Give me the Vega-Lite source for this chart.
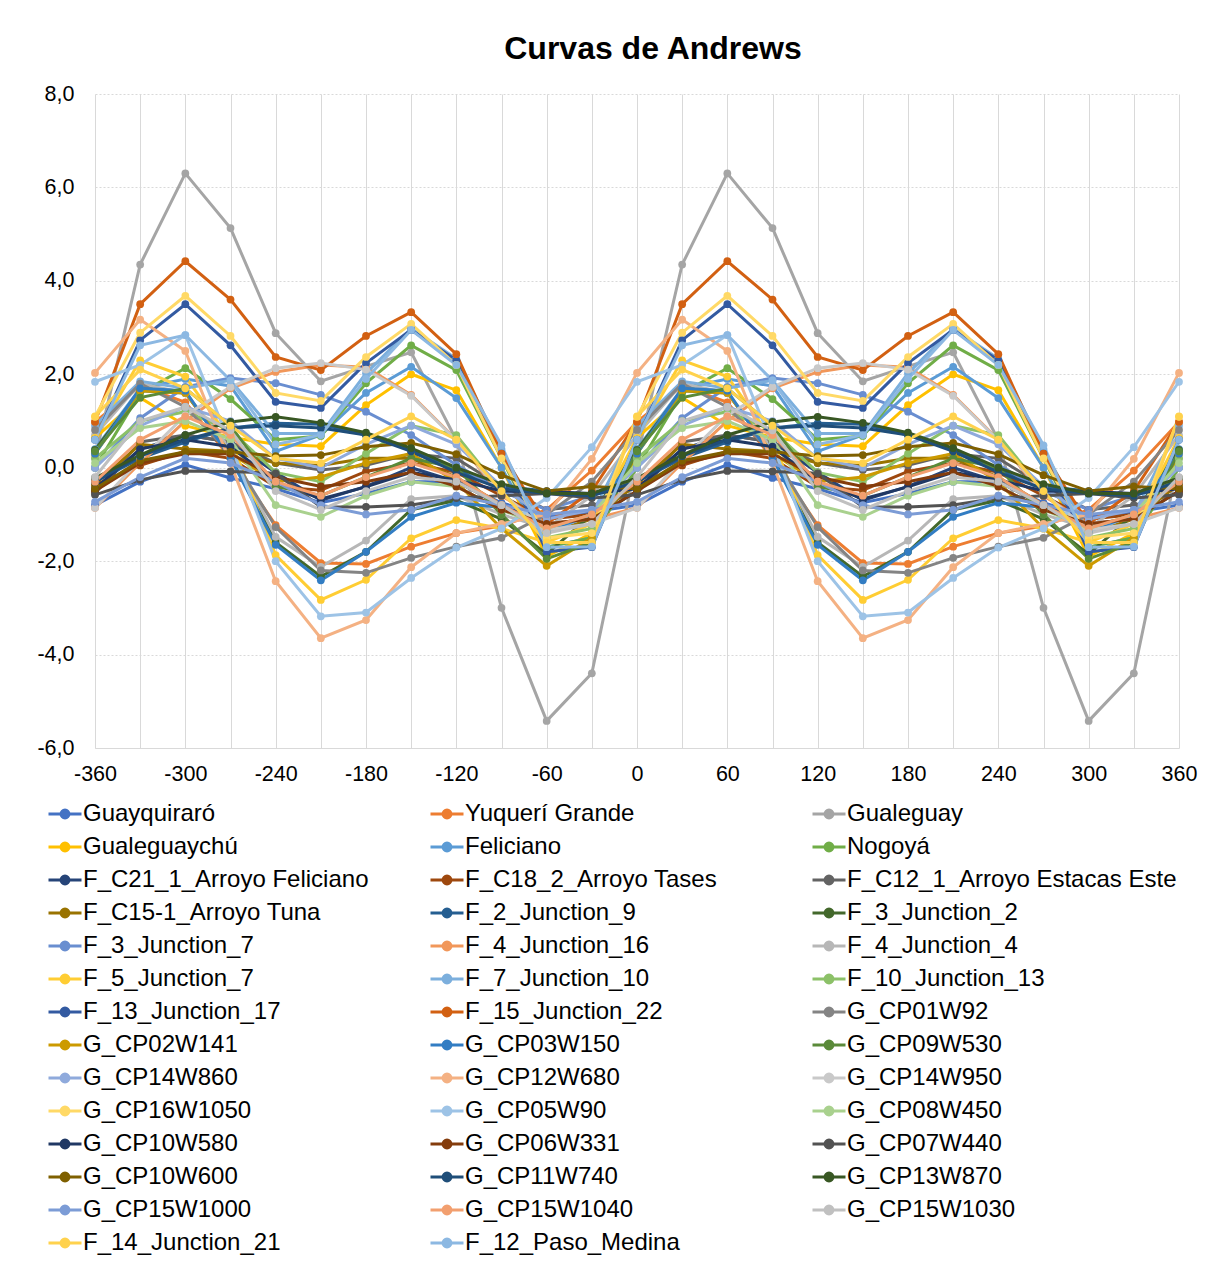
{
"$schema": "https://vega.github.io/schema/vega-lite/v6.json",
"width": 1084, "height": 654,
"autosize": {"type": "none"},
"padding": {"left": 95, "top": 94, "right": 37, "bottom": 517},
"background": "white",
"title": {"text": "Curvas de Andrews", "font": "Liberation Sans", "fontSize": 32, "fontWeight": "bold", "color": "#000000", "anchor": "middle", "offset": 17, "dx": 16},
"config": {"view": {"stroke": null}, "font": "Liberation Sans"},
"data": {"values": [
{"s":1,"x":-360,"y":-0.8},{"s":1,"x":-330,"y":-0.3},{"s":1,"x":-300,"y":0.06},{"s":1,"x":-270,"y":-0.22},{"s":1,"x":-240,"y":-0.45},{"s":1,"x":-210,"y":-0.75},{"s":1,"x":-180,"y":-0.55},{"s":1,"x":-150,"y":-0.3},{"s":1,"x":-120,"y":-0.3},{"s":1,"x":-90,"y":-0.75},{"s":1,"x":-60,"y":-1.05},{"s":1,"x":-30,"y":-0.95},{"s":1,"x":0,"y":-0.8},{"s":1,"x":30,"y":-0.3},{"s":1,"x":60,"y":0.06},{"s":1,"x":90,"y":-0.22},{"s":1,"x":120,"y":-0.45},{"s":1,"x":150,"y":-0.75},{"s":1,"x":180,"y":-0.55},{"s":1,"x":210,"y":-0.3},{"s":1,"x":240,"y":-0.3},{"s":1,"x":270,"y":-0.75},{"s":1,"x":300,"y":-1.05},{"s":1,"x":330,"y":-0.95},{"s":1,"x":360,"y":-0.8},
{"s":2,"x":-360,"y":0.98},{"s":2,"x":-330,"y":1.75},{"s":2,"x":-300,"y":1.4},{"s":2,"x":-270,"y":0.2},{"s":2,"x":-240,"y":-1.23},{"s":2,"x":-210,"y":-2.04},{"s":2,"x":-180,"y":-2.06},{"s":2,"x":-150,"y":-1.69},{"s":2,"x":-120,"y":-1.4},{"s":2,"x":-90,"y":-1.25},{"s":2,"x":-60,"y":-0.9},{"s":2,"x":-30,"y":-0.06},{"s":2,"x":0,"y":0.98},{"s":2,"x":30,"y":1.75},{"s":2,"x":60,"y":1.4},{"s":2,"x":90,"y":0.2},{"s":2,"x":120,"y":-1.23},{"s":2,"x":150,"y":-2.04},{"s":2,"x":180,"y":-2.06},{"s":2,"x":210,"y":-1.69},{"s":2,"x":240,"y":-1.4},{"s":2,"x":270,"y":-1.25},{"s":2,"x":300,"y":-0.9},{"s":2,"x":330,"y":-0.06},{"s":2,"x":360,"y":0.98},
{"s":3,"x":-360,"y":0.2},{"s":3,"x":-330,"y":4.35},{"s":3,"x":-300,"y":6.3},{"s":3,"x":-270,"y":5.13},{"s":3,"x":-240,"y":2.88},{"s":3,"x":-210,"y":1.85},{"s":3,"x":-180,"y":2.17},{"s":3,"x":-150,"y":2.47},{"s":3,"x":-120,"y":0.59},{"s":3,"x":-90,"y":-3.0},{"s":3,"x":-60,"y":-5.42},{"s":3,"x":-30,"y":-4.4},{"s":3,"x":0,"y":0.2},{"s":3,"x":30,"y":4.35},{"s":3,"x":60,"y":6.3},{"s":3,"x":90,"y":5.13},{"s":3,"x":120,"y":2.88},{"s":3,"x":150,"y":1.85},{"s":3,"x":180,"y":2.17},{"s":3,"x":210,"y":2.47},{"s":3,"x":240,"y":0.59},{"s":3,"x":270,"y":-3.0},{"s":3,"x":300,"y":-5.42},{"s":3,"x":330,"y":-4.4},{"s":3,"x":360,"y":0.2},
{"s":4,"x":-360,"y":0.64},{"s":4,"x":-330,"y":1.5},{"s":4,"x":-300,"y":0.9},{"s":4,"x":-270,"y":0.65},{"s":4,"x":-240,"y":0.5},{"s":4,"x":-210,"y":0.46},{"s":4,"x":-180,"y":1.34},{"s":4,"x":-150,"y":2.0},{"s":4,"x":-120,"y":1.66},{"s":4,"x":-90,"y":0.0},{"s":4,"x":-60,"y":-1.9},{"s":4,"x":-30,"y":-1.4},{"s":4,"x":0,"y":0.64},{"s":4,"x":30,"y":1.5},{"s":4,"x":60,"y":0.9},{"s":4,"x":90,"y":0.65},{"s":4,"x":120,"y":0.5},{"s":4,"x":150,"y":0.46},{"s":4,"x":180,"y":1.34},{"s":4,"x":210,"y":2.0},{"s":4,"x":240,"y":1.66},{"s":4,"x":270,"y":0.0},{"s":4,"x":300,"y":-1.9},{"s":4,"x":330,"y":-1.4},{"s":4,"x":360,"y":0.64},
{"s":5,"x":-360,"y":0.4},{"s":5,"x":-330,"y":1.7},{"s":5,"x":-300,"y":1.9},{"s":5,"x":-270,"y":1.75},{"s":5,"x":-240,"y":0.35},{"s":5,"x":-210,"y":0.7},{"s":5,"x":-180,"y":1.6},{"s":5,"x":-150,"y":2.16},{"s":5,"x":-120,"y":1.49},{"s":5,"x":-90,"y":0.0},{"s":5,"x":-60,"y":-1.7},{"s":5,"x":-30,"y":-1.5},{"s":5,"x":0,"y":0.4},{"s":5,"x":30,"y":1.7},{"s":5,"x":60,"y":1.9},{"s":5,"x":90,"y":1.75},{"s":5,"x":120,"y":0.35},{"s":5,"x":150,"y":0.7},{"s":5,"x":180,"y":1.6},{"s":5,"x":210,"y":2.16},{"s":5,"x":240,"y":1.49},{"s":5,"x":270,"y":0.0},{"s":5,"x":300,"y":-1.7},{"s":5,"x":330,"y":-1.5},{"s":5,"x":360,"y":0.4},
{"s":6,"x":-360,"y":0.0},{"s":6,"x":-330,"y":1.6},{"s":6,"x":-300,"y":2.13},{"s":6,"x":-270,"y":1.47},{"s":6,"x":-240,"y":0.6},{"s":6,"x":-210,"y":0.68},{"s":6,"x":-180,"y":1.81},{"s":6,"x":-150,"y":2.62},{"s":6,"x":-120,"y":2.09},{"s":6,"x":-90,"y":0.2},{"s":6,"x":-60,"y":-1.7},{"s":6,"x":-30,"y":-1.5},{"s":6,"x":0,"y":0.0},{"s":6,"x":30,"y":1.6},{"s":6,"x":60,"y":2.13},{"s":6,"x":90,"y":1.47},{"s":6,"x":120,"y":0.6},{"s":6,"x":150,"y":0.68},{"s":6,"x":180,"y":1.81},{"s":6,"x":210,"y":2.62},{"s":6,"x":240,"y":2.09},{"s":6,"x":270,"y":0.2},{"s":6,"x":300,"y":-1.7},{"s":6,"x":330,"y":-1.5},{"s":6,"x":360,"y":0.0},
{"s":7,"x":-360,"y":-0.5},{"s":7,"x":-330,"y":0.4},{"s":7,"x":-300,"y":0.7},{"s":7,"x":-270,"y":0.55},{"s":7,"x":-240,"y":-0.1},{"s":7,"x":-210,"y":-0.7},{"s":7,"x":-180,"y":-0.4},{"s":7,"x":-150,"y":0.0},{"s":7,"x":-120,"y":-0.3},{"s":7,"x":-90,"y":-0.8},{"s":7,"x":-60,"y":-1.2},{"s":7,"x":-30,"y":-1.1},{"s":7,"x":0,"y":-0.5},{"s":7,"x":30,"y":0.4},{"s":7,"x":60,"y":0.7},{"s":7,"x":90,"y":0.55},{"s":7,"x":120,"y":-0.1},{"s":7,"x":150,"y":-0.7},{"s":7,"x":180,"y":-0.4},{"s":7,"x":210,"y":0.0},{"s":7,"x":240,"y":-0.3},{"s":7,"x":270,"y":-0.8},{"s":7,"x":300,"y":-1.2},{"s":7,"x":330,"y":-1.1},{"s":7,"x":360,"y":-0.5},
{"s":8,"x":-360,"y":-0.37},{"s":8,"x":-330,"y":0.05},{"s":8,"x":-300,"y":0.35},{"s":8,"x":-270,"y":0.2},{"s":8,"x":-240,"y":-0.41},{"s":8,"x":-210,"y":-0.48},{"s":8,"x":-180,"y":-0.08},{"s":8,"x":-150,"y":0.1},{"s":8,"x":-120,"y":-0.1},{"s":8,"x":-90,"y":-0.6},{"s":8,"x":-60,"y":-1.1},{"s":8,"x":-30,"y":-1.0},{"s":8,"x":0,"y":-0.37},{"s":8,"x":30,"y":0.05},{"s":8,"x":60,"y":0.35},{"s":8,"x":90,"y":0.2},{"s":8,"x":120,"y":-0.41},{"s":8,"x":150,"y":-0.48},{"s":8,"x":180,"y":-0.08},{"s":8,"x":210,"y":0.1},{"s":8,"x":240,"y":-0.1},{"s":8,"x":270,"y":-0.6},{"s":8,"x":300,"y":-1.1},{"s":8,"x":330,"y":-1.0},{"s":8,"x":360,"y":-0.37},
{"s":9,"x":-360,"y":-0.55},{"s":9,"x":-330,"y":0.55},{"s":9,"x":-300,"y":0.7},{"s":9,"x":-270,"y":0.55},{"s":9,"x":-240,"y":0.1},{"s":9,"x":-210,"y":-0.05},{"s":9,"x":-180,"y":0.05},{"s":9,"x":-150,"y":0.3},{"s":9,"x":-120,"y":0.2},{"s":9,"x":-90,"y":-0.4},{"s":9,"x":-60,"y":-0.9},{"s":9,"x":-30,"y":-0.8},{"s":9,"x":0,"y":-0.55},{"s":9,"x":30,"y":0.55},{"s":9,"x":60,"y":0.7},{"s":9,"x":90,"y":0.55},{"s":9,"x":120,"y":0.1},{"s":9,"x":150,"y":-0.05},{"s":9,"x":180,"y":0.05},{"s":9,"x":210,"y":0.3},{"s":9,"x":240,"y":0.2},{"s":9,"x":270,"y":-0.4},{"s":9,"x":300,"y":-0.9},{"s":9,"x":330,"y":-0.8},{"s":9,"x":360,"y":-0.55},
{"s":10,"x":-360,"y":-0.35},{"s":10,"x":-330,"y":0.5},{"s":10,"x":-300,"y":0.4},{"s":10,"x":-270,"y":0.35},{"s":10,"x":-240,"y":0.1},{"s":10,"x":-210,"y":0.05},{"s":10,"x":-180,"y":0.2},{"s":10,"x":-150,"y":0.2},{"s":10,"x":-120,"y":-0.2},{"s":10,"x":-90,"y":-0.8},{"s":10,"x":-60,"y":-1.4},{"s":10,"x":-30,"y":-1.1},{"s":10,"x":0,"y":-0.35},{"s":10,"x":30,"y":0.5},{"s":10,"x":60,"y":0.4},{"s":10,"x":90,"y":0.35},{"s":10,"x":120,"y":0.1},{"s":10,"x":150,"y":0.05},{"s":10,"x":180,"y":0.2},{"s":10,"x":210,"y":0.2},{"s":10,"x":240,"y":-0.2},{"s":10,"x":270,"y":-0.8},{"s":10,"x":300,"y":-1.4},{"s":10,"x":330,"y":-1.1},{"s":10,"x":360,"y":-0.35},
{"s":11,"x":-360,"y":-0.3},{"s":11,"x":-330,"y":0.2},{"s":11,"x":-300,"y":0.55},{"s":11,"x":-270,"y":0.85},{"s":11,"x":-240,"y":0.95},{"s":11,"x":-210,"y":0.93},{"s":11,"x":-180,"y":0.7},{"s":11,"x":-150,"y":0.4},{"s":11,"x":-120,"y":-0.05},{"s":11,"x":-90,"y":-0.4},{"s":11,"x":-60,"y":-0.5},{"s":11,"x":-30,"y":-0.6},{"s":11,"x":0,"y":-0.3},{"s":11,"x":30,"y":0.2},{"s":11,"x":60,"y":0.55},{"s":11,"x":90,"y":0.85},{"s":11,"x":120,"y":0.95},{"s":11,"x":150,"y":0.93},{"s":11,"x":180,"y":0.7},{"s":11,"x":210,"y":0.4},{"s":11,"x":240,"y":-0.05},{"s":11,"x":270,"y":-0.4},{"s":11,"x":300,"y":-0.5},{"s":11,"x":330,"y":-0.6},{"s":11,"x":360,"y":-0.3},
{"s":12,"x":-360,"y":0.38},{"s":12,"x":-330,"y":1.65},{"s":12,"x":-300,"y":1.6},{"s":12,"x":-270,"y":0.3},{"s":12,"x":-240,"y":-1.6},{"s":12,"x":-210,"y":-2.33},{"s":12,"x":-180,"y":-1.8},{"s":12,"x":-150,"y":-0.9},{"s":12,"x":-120,"y":-0.7},{"s":12,"x":-90,"y":-1.1},{"s":12,"x":-60,"y":-1.85},{"s":12,"x":-30,"y":-1.0},{"s":12,"x":0,"y":0.38},{"s":12,"x":30,"y":1.65},{"s":12,"x":60,"y":1.6},{"s":12,"x":90,"y":0.3},{"s":12,"x":120,"y":-1.6},{"s":12,"x":150,"y":-2.33},{"s":12,"x":180,"y":-1.8},{"s":12,"x":210,"y":-0.9},{"s":12,"x":240,"y":-0.7},{"s":12,"x":270,"y":-1.1},{"s":12,"x":300,"y":-1.85},{"s":12,"x":330,"y":-1.0},{"s":12,"x":360,"y":0.38},
{"s":13,"x":-360,"y":0.0},{"s":13,"x":-330,"y":1.06},{"s":13,"x":-300,"y":1.73},{"s":13,"x":-270,"y":1.92},{"s":13,"x":-240,"y":1.81},{"s":13,"x":-210,"y":1.56},{"s":13,"x":-180,"y":1.2},{"s":13,"x":-150,"y":0.7},{"s":13,"x":-120,"y":0.06},{"s":13,"x":-90,"y":-0.5},{"s":13,"x":-60,"y":-0.9},{"s":13,"x":-30,"y":-0.6},{"s":13,"x":0,"y":0.0},{"s":13,"x":30,"y":1.06},{"s":13,"x":60,"y":1.73},{"s":13,"x":90,"y":1.92},{"s":13,"x":120,"y":1.81},{"s":13,"x":150,"y":1.56},{"s":13,"x":180,"y":1.2},{"s":13,"x":210,"y":0.7},{"s":13,"x":240,"y":0.06},{"s":13,"x":270,"y":-0.5},{"s":13,"x":300,"y":-0.9},{"s":13,"x":330,"y":-0.6},{"s":13,"x":360,"y":0.0},
{"s":14,"x":-360,"y":-0.86},{"s":14,"x":-330,"y":0.1},{"s":14,"x":-300,"y":1.0},{"s":14,"x":-270,"y":1.7},{"s":14,"x":-240,"y":2.05},{"s":14,"x":-210,"y":2.2},{"s":14,"x":-180,"y":2.15},{"s":14,"x":-150,"y":1.56},{"s":14,"x":-120,"y":0.6},{"s":14,"x":-90,"y":-0.6},{"s":14,"x":-60,"y":-1.2},{"s":14,"x":-30,"y":-1.1},{"s":14,"x":0,"y":-0.86},{"s":14,"x":30,"y":0.1},{"s":14,"x":60,"y":1.0},{"s":14,"x":90,"y":1.7},{"s":14,"x":120,"y":2.05},{"s":14,"x":150,"y":2.2},{"s":14,"x":180,"y":2.15},{"s":14,"x":210,"y":1.56},{"s":14,"x":240,"y":0.6},{"s":14,"x":270,"y":-0.6},{"s":14,"x":300,"y":-1.2},{"s":14,"x":330,"y":-1.1},{"s":14,"x":360,"y":-0.86},
{"s":15,"x":-360,"y":0.7},{"s":15,"x":-330,"y":1.8},{"s":15,"x":-300,"y":1.6},{"s":15,"x":-270,"y":0.4},{"s":15,"x":-240,"y":-1.48},{"s":15,"x":-210,"y":-2.12},{"s":15,"x":-180,"y":-1.56},{"s":15,"x":-150,"y":-0.67},{"s":15,"x":-120,"y":-0.6},{"s":15,"x":-90,"y":-1.0},{"s":15,"x":-60,"y":-1.3},{"s":15,"x":-30,"y":-0.6},{"s":15,"x":0,"y":0.7},{"s":15,"x":30,"y":1.8},{"s":15,"x":60,"y":1.6},{"s":15,"x":90,"y":0.4},{"s":15,"x":120,"y":-1.48},{"s":15,"x":150,"y":-2.12},{"s":15,"x":180,"y":-1.56},{"s":15,"x":210,"y":-0.67},{"s":15,"x":240,"y":-0.6},{"s":15,"x":270,"y":-1.0},{"s":15,"x":300,"y":-1.3},{"s":15,"x":330,"y":-0.6},{"s":15,"x":360,"y":0.7},
{"s":16,"x":-360,"y":0.64},{"s":16,"x":-330,"y":2.3},{"s":16,"x":-300,"y":1.95},{"s":16,"x":-270,"y":0.6},{"s":16,"x":-240,"y":-1.87},{"s":16,"x":-210,"y":-2.83},{"s":16,"x":-180,"y":-2.4},{"s":16,"x":-150,"y":-1.51},{"s":16,"x":-120,"y":-1.12},{"s":16,"x":-90,"y":-1.3},{"s":16,"x":-60,"y":-1.6},{"s":16,"x":-30,"y":-1.2},{"s":16,"x":0,"y":0.64},{"s":16,"x":30,"y":2.3},{"s":16,"x":60,"y":1.95},{"s":16,"x":90,"y":0.6},{"s":16,"x":120,"y":-1.87},{"s":16,"x":150,"y":-2.83},{"s":16,"x":180,"y":-2.4},{"s":16,"x":210,"y":-1.51},{"s":16,"x":240,"y":-1.12},{"s":16,"x":270,"y":-1.3},{"s":16,"x":300,"y":-1.6},{"s":16,"x":330,"y":-1.2},{"s":16,"x":360,"y":0.64},
{"s":17,"x":-360,"y":0.9},{"s":17,"x":-330,"y":1.85},{"s":17,"x":-300,"y":1.7},{"s":17,"x":-270,"y":1.87},{"s":17,"x":-240,"y":0.73},{"s":17,"x":-210,"y":0.73},{"s":17,"x":-180,"y":2.02},{"s":17,"x":-150,"y":2.98},{"s":17,"x":-120,"y":2.33},{"s":17,"x":-90,"y":0.4},{"s":17,"x":-60,"y":-1.4},{"s":17,"x":-30,"y":-1.0},{"s":17,"x":0,"y":0.9},{"s":17,"x":30,"y":1.85},{"s":17,"x":60,"y":1.7},{"s":17,"x":90,"y":1.87},{"s":17,"x":120,"y":0.73},{"s":17,"x":150,"y":0.73},{"s":17,"x":180,"y":2.02},{"s":17,"x":210,"y":2.98},{"s":17,"x":240,"y":2.33},{"s":17,"x":270,"y":0.4},{"s":17,"x":300,"y":-1.4},{"s":17,"x":330,"y":-1.0},{"s":17,"x":360,"y":0.9},
{"s":18,"x":-360,"y":0.2},{"s":18,"x":-330,"y":1.0},{"s":18,"x":-300,"y":1.2},{"s":18,"x":-270,"y":0.8},{"s":18,"x":-240,"y":-0.1},{"s":18,"x":-210,"y":-0.3},{"s":18,"x":-180,"y":0.3},{"s":18,"x":-150,"y":0.9},{"s":18,"x":-120,"y":0.7},{"s":18,"x":-90,"y":-0.5},{"s":18,"x":-60,"y":-1.5},{"s":18,"x":-30,"y":-1.3},{"s":18,"x":0,"y":0.2},{"s":18,"x":30,"y":1.0},{"s":18,"x":60,"y":1.2},{"s":18,"x":90,"y":0.8},{"s":18,"x":120,"y":-0.1},{"s":18,"x":150,"y":-0.3},{"s":18,"x":180,"y":0.3},{"s":18,"x":210,"y":0.9},{"s":18,"x":240,"y":0.7},{"s":18,"x":270,"y":-0.5},{"s":18,"x":300,"y":-1.5},{"s":18,"x":330,"y":-1.3},{"s":18,"x":360,"y":0.2},
{"s":19,"x":-360,"y":0.6},{"s":19,"x":-330,"y":2.73},{"s":19,"x":-300,"y":3.5},{"s":19,"x":-270,"y":2.62},{"s":19,"x":-240,"y":1.41},{"s":19,"x":-210,"y":1.28},{"s":19,"x":-180,"y":2.24},{"s":19,"x":-150,"y":2.95},{"s":19,"x":-120,"y":2.3},{"s":19,"x":-90,"y":0.3},{"s":19,"x":-60,"y":-1.8},{"s":19,"x":-30,"y":-1.7},{"s":19,"x":0,"y":0.6},{"s":19,"x":30,"y":2.73},{"s":19,"x":60,"y":3.5},{"s":19,"x":90,"y":2.62},{"s":19,"x":120,"y":1.41},{"s":19,"x":150,"y":1.28},{"s":19,"x":180,"y":2.24},{"s":19,"x":210,"y":2.95},{"s":19,"x":240,"y":2.3},{"s":19,"x":270,"y":0.3},{"s":19,"x":300,"y":-1.8},{"s":19,"x":330,"y":-1.7},{"s":19,"x":360,"y":0.6},
{"s":20,"x":-360,"y":0.98},{"s":20,"x":-330,"y":3.5},{"s":20,"x":-300,"y":4.42},{"s":20,"x":-270,"y":3.6},{"s":20,"x":-240,"y":2.37},{"s":20,"x":-210,"y":2.09},{"s":20,"x":-180,"y":2.82},{"s":20,"x":-150,"y":3.33},{"s":20,"x":-120,"y":2.43},{"s":20,"x":-90,"y":0.3},{"s":20,"x":-60,"y":-1.2},{"s":20,"x":-30,"y":-0.5},{"s":20,"x":0,"y":0.98},{"s":20,"x":30,"y":3.5},{"s":20,"x":60,"y":4.42},{"s":20,"x":90,"y":3.6},{"s":20,"x":120,"y":2.37},{"s":20,"x":150,"y":2.09},{"s":20,"x":180,"y":2.82},{"s":20,"x":210,"y":3.33},{"s":20,"x":240,"y":2.43},{"s":20,"x":270,"y":0.3},{"s":20,"x":300,"y":-1.2},{"s":20,"x":330,"y":-0.5},{"s":20,"x":360,"y":0.98},
{"s":21,"x":-360,"y":0.81},{"s":21,"x":-330,"y":1.8},{"s":21,"x":-300,"y":1.3},{"s":21,"x":-270,"y":0.3},{"s":21,"x":-240,"y":-1.27},{"s":21,"x":-210,"y":-2.2},{"s":21,"x":-180,"y":-2.25},{"s":21,"x":-150,"y":-1.93},{"s":21,"x":-120,"y":-1.69},{"s":21,"x":-90,"y":-1.5},{"s":21,"x":-60,"y":-1.0},{"s":21,"x":-30,"y":-0.3},{"s":21,"x":0,"y":0.81},{"s":21,"x":30,"y":1.8},{"s":21,"x":60,"y":1.3},{"s":21,"x":90,"y":0.3},{"s":21,"x":120,"y":-1.27},{"s":21,"x":150,"y":-2.2},{"s":21,"x":180,"y":-2.25},{"s":21,"x":210,"y":-1.93},{"s":21,"x":240,"y":-1.69},{"s":21,"x":270,"y":-1.5},{"s":21,"x":300,"y":-1.0},{"s":21,"x":330,"y":-0.3},{"s":21,"x":360,"y":0.81},
{"s":22,"x":-360,"y":0.3},{"s":22,"x":-330,"y":1.65},{"s":22,"x":-300,"y":1.6},{"s":22,"x":-270,"y":0.3},{"s":22,"x":-240,"y":-0.3},{"s":22,"x":-210,"y":-0.2},{"s":22,"x":-180,"y":0.1},{"s":22,"x":-150,"y":0.3},{"s":22,"x":-120,"y":-0.3},{"s":22,"x":-90,"y":-1.3},{"s":22,"x":-60,"y":-2.1},{"s":22,"x":-30,"y":-1.5},{"s":22,"x":0,"y":0.3},{"s":22,"x":30,"y":1.65},{"s":22,"x":60,"y":1.6},{"s":22,"x":90,"y":0.3},{"s":22,"x":120,"y":-0.3},{"s":22,"x":150,"y":-0.2},{"s":22,"x":180,"y":0.1},{"s":22,"x":210,"y":0.3},{"s":22,"x":240,"y":-0.3},{"s":22,"x":270,"y":-1.3},{"s":22,"x":300,"y":-2.1},{"s":22,"x":330,"y":-1.5},{"s":22,"x":360,"y":0.3},
{"s":23,"x":-360,"y":0.3},{"s":23,"x":-330,"y":1.7},{"s":23,"x":-300,"y":1.65},{"s":23,"x":-270,"y":0.2},{"s":23,"x":-240,"y":-1.65},{"s":23,"x":-210,"y":-2.41},{"s":23,"x":-180,"y":-1.8},{"s":23,"x":-150,"y":-1.05},{"s":23,"x":-120,"y":-0.75},{"s":23,"x":-90,"y":-0.85},{"s":23,"x":-60,"y":-1.35},{"s":23,"x":-30,"y":-1.0},{"s":23,"x":0,"y":0.3},{"s":23,"x":30,"y":1.7},{"s":23,"x":60,"y":1.65},{"s":23,"x":90,"y":0.2},{"s":23,"x":120,"y":-1.65},{"s":23,"x":150,"y":-2.41},{"s":23,"x":180,"y":-1.8},{"s":23,"x":210,"y":-1.05},{"s":23,"x":240,"y":-0.75},{"s":23,"x":270,"y":-0.85},{"s":23,"x":300,"y":-1.35},{"s":23,"x":330,"y":-1.0},{"s":23,"x":360,"y":0.3},
{"s":24,"x":-360,"y":0.35},{"s":24,"x":-330,"y":1.5},{"s":24,"x":-300,"y":1.7},{"s":24,"x":-270,"y":0.9},{"s":24,"x":-240,"y":-0.4},{"s":24,"x":-210,"y":-0.6},{"s":24,"x":-180,"y":-0.2},{"s":24,"x":-150,"y":0.2},{"s":24,"x":-120,"y":0.0},{"s":24,"x":-90,"y":-1.0},{"s":24,"x":-60,"y":-1.95},{"s":24,"x":-30,"y":-1.6},{"s":24,"x":0,"y":0.35},{"s":24,"x":30,"y":1.5},{"s":24,"x":60,"y":1.7},{"s":24,"x":90,"y":0.9},{"s":24,"x":120,"y":-0.4},{"s":24,"x":150,"y":-0.6},{"s":24,"x":180,"y":-0.2},{"s":24,"x":210,"y":0.2},{"s":24,"x":240,"y":0.0},{"s":24,"x":270,"y":-1.0},{"s":24,"x":300,"y":-1.95},{"s":24,"x":330,"y":-1.6},{"s":24,"x":360,"y":0.35},
{"s":25,"x":-360,"y":0.0},{"s":25,"x":-330,"y":0.9},{"s":25,"x":-300,"y":1.3},{"s":25,"x":-270,"y":1.0},{"s":25,"x":-240,"y":0.2},{"s":25,"x":-210,"y":0.0},{"s":25,"x":-180,"y":0.5},{"s":25,"x":-150,"y":0.9},{"s":25,"x":-120,"y":0.5},{"s":25,"x":-90,"y":-0.4},{"s":25,"x":-60,"y":-1.1},{"s":25,"x":-30,"y":-0.9},{"s":25,"x":0,"y":0.0},{"s":25,"x":30,"y":0.9},{"s":25,"x":60,"y":1.3},{"s":25,"x":90,"y":1.0},{"s":25,"x":120,"y":0.2},{"s":25,"x":150,"y":0.0},{"s":25,"x":180,"y":0.5},{"s":25,"x":210,"y":0.9},{"s":25,"x":240,"y":0.5},{"s":25,"x":270,"y":-0.4},{"s":25,"x":300,"y":-1.1},{"s":25,"x":330,"y":-0.9},{"s":25,"x":360,"y":0.0},
{"s":26,"x":-360,"y":2.03},{"s":26,"x":-330,"y":3.17},{"s":26,"x":-300,"y":2.5},{"s":26,"x":-270,"y":0.1},{"s":26,"x":-240,"y":-2.43},{"s":26,"x":-210,"y":-3.65},{"s":26,"x":-180,"y":-3.26},{"s":26,"x":-150,"y":-2.13},{"s":26,"x":-120,"y":-1.4},{"s":26,"x":-90,"y":-1.2},{"s":26,"x":-60,"y":-1.0},{"s":26,"x":-30,"y":0.19},{"s":26,"x":0,"y":2.03},{"s":26,"x":30,"y":3.17},{"s":26,"x":60,"y":2.5},{"s":26,"x":90,"y":0.1},{"s":26,"x":120,"y":-2.43},{"s":26,"x":150,"y":-3.65},{"s":26,"x":180,"y":-3.26},{"s":26,"x":210,"y":-2.13},{"s":26,"x":240,"y":-1.4},{"s":26,"x":270,"y":-1.2},{"s":26,"x":300,"y":-1.0},{"s":26,"x":330,"y":0.19},{"s":26,"x":360,"y":2.03},
{"s":27,"x":-360,"y":-0.86},{"s":27,"x":-330,"y":0.17},{"s":27,"x":-300,"y":1.12},{"s":27,"x":-270,"y":1.73},{"s":27,"x":-240,"y":2.13},{"s":27,"x":-210,"y":2.24},{"s":27,"x":-180,"y":2.1},{"s":27,"x":-150,"y":1.54},{"s":27,"x":-120,"y":0.59},{"s":27,"x":-90,"y":-0.55},{"s":27,"x":-60,"y":-1.33},{"s":27,"x":-30,"y":-1.2},{"s":27,"x":0,"y":-0.86},{"s":27,"x":30,"y":0.17},{"s":27,"x":60,"y":1.12},{"s":27,"x":90,"y":1.73},{"s":27,"x":120,"y":2.13},{"s":27,"x":150,"y":2.24},{"s":27,"x":180,"y":2.1},{"s":27,"x":210,"y":1.54},{"s":27,"x":240,"y":0.59},{"s":27,"x":270,"y":-0.55},{"s":27,"x":300,"y":-1.33},{"s":27,"x":330,"y":-1.2},{"s":27,"x":360,"y":-0.86},
{"s":28,"x":-360,"y":1.09},{"s":28,"x":-330,"y":2.89},{"s":28,"x":-300,"y":3.68},{"s":28,"x":-270,"y":2.82},{"s":28,"x":-240,"y":1.6},{"s":28,"x":-210,"y":1.43},{"s":28,"x":-180,"y":2.37},{"s":28,"x":-150,"y":3.08},{"s":28,"x":-120,"y":2.2},{"s":28,"x":-90,"y":0.2},{"s":28,"x":-60,"y":-1.5},{"s":28,"x":-30,"y":-1.4},{"s":28,"x":0,"y":1.09},{"s":28,"x":30,"y":2.89},{"s":28,"x":60,"y":3.68},{"s":28,"x":90,"y":2.82},{"s":28,"x":120,"y":1.6},{"s":28,"x":150,"y":1.43},{"s":28,"x":180,"y":2.37},{"s":28,"x":210,"y":3.08},{"s":28,"x":240,"y":2.2},{"s":28,"x":270,"y":0.2},{"s":28,"x":300,"y":-1.5},{"s":28,"x":330,"y":-1.4},{"s":28,"x":360,"y":1.09},
{"s":29,"x":-360,"y":1.84},{"s":29,"x":-330,"y":2.2},{"s":29,"x":-300,"y":2.84},{"s":29,"x":-270,"y":0.5},{"s":29,"x":-240,"y":-2.0},{"s":29,"x":-210,"y":-3.18},{"s":29,"x":-180,"y":-3.1},{"s":29,"x":-150,"y":-2.36},{"s":29,"x":-120,"y":-1.71},{"s":29,"x":-90,"y":-1.3},{"s":29,"x":-60,"y":-0.65},{"s":29,"x":-30,"y":0.44},{"s":29,"x":0,"y":1.84},{"s":29,"x":30,"y":2.2},{"s":29,"x":60,"y":2.84},{"s":29,"x":90,"y":0.5},{"s":29,"x":120,"y":-2.0},{"s":29,"x":150,"y":-3.18},{"s":29,"x":180,"y":-3.1},{"s":29,"x":210,"y":-2.36},{"s":29,"x":240,"y":-1.71},{"s":29,"x":270,"y":-1.3},{"s":29,"x":300,"y":-0.65},{"s":29,"x":330,"y":0.44},{"s":29,"x":360,"y":1.84},
{"s":30,"x":-360,"y":0.1},{"s":30,"x":-330,"y":0.85},{"s":30,"x":-300,"y":1.0},{"s":30,"x":-270,"y":0.6},{"s":30,"x":-240,"y":-0.8},{"s":30,"x":-210,"y":-1.05},{"s":30,"x":-180,"y":-0.6},{"s":30,"x":-150,"y":-0.3},{"s":30,"x":-120,"y":-0.4},{"s":30,"x":-90,"y":-0.9},{"s":30,"x":-60,"y":-1.3},{"s":30,"x":-30,"y":-1.0},{"s":30,"x":0,"y":0.1},{"s":30,"x":30,"y":0.85},{"s":30,"x":60,"y":1.0},{"s":30,"x":90,"y":0.6},{"s":30,"x":120,"y":-0.8},{"s":30,"x":150,"y":-1.05},{"s":30,"x":180,"y":-0.6},{"s":30,"x":210,"y":-0.3},{"s":30,"x":240,"y":-0.4},{"s":30,"x":270,"y":-0.9},{"s":30,"x":300,"y":-1.3},{"s":30,"x":330,"y":-1.0},{"s":30,"x":360,"y":0.1},
{"s":31,"x":-360,"y":-0.45},{"s":31,"x":-330,"y":0.4},{"s":31,"x":-300,"y":0.6},{"s":31,"x":-270,"y":0.45},{"s":31,"x":-240,"y":-0.3},{"s":31,"x":-210,"y":-0.67},{"s":31,"x":-180,"y":-0.41},{"s":31,"x":-150,"y":-0.1},{"s":31,"x":-120,"y":-0.26},{"s":31,"x":-90,"y":-0.5},{"s":31,"x":-60,"y":-0.51},{"s":31,"x":-30,"y":-0.55},{"s":31,"x":0,"y":-0.45},{"s":31,"x":30,"y":0.4},{"s":31,"x":60,"y":0.6},{"s":31,"x":90,"y":0.45},{"s":31,"x":120,"y":-0.3},{"s":31,"x":150,"y":-0.67},{"s":31,"x":180,"y":-0.41},{"s":31,"x":210,"y":-0.1},{"s":31,"x":240,"y":-0.26},{"s":31,"x":270,"y":-0.5},{"s":31,"x":300,"y":-0.51},{"s":31,"x":330,"y":-0.55},{"s":31,"x":360,"y":-0.45},
{"s":32,"x":-360,"y":-0.5},{"s":32,"x":-330,"y":0.1},{"s":32,"x":-300,"y":0.3},{"s":32,"x":-270,"y":0.3},{"s":32,"x":-240,"y":-0.2},{"s":32,"x":-210,"y":-0.4},{"s":32,"x":-180,"y":-0.3},{"s":32,"x":-150,"y":-0.1},{"s":32,"x":-120,"y":-0.4},{"s":32,"x":-90,"y":-0.9},{"s":32,"x":-60,"y":-1.2},{"s":32,"x":-30,"y":-1.1},{"s":32,"x":0,"y":-0.5},{"s":32,"x":30,"y":0.1},{"s":32,"x":60,"y":0.3},{"s":32,"x":90,"y":0.3},{"s":32,"x":120,"y":-0.2},{"s":32,"x":150,"y":-0.4},{"s":32,"x":180,"y":-0.3},{"s":32,"x":210,"y":-0.1},{"s":32,"x":240,"y":-0.4},{"s":32,"x":270,"y":-0.9},{"s":32,"x":300,"y":-1.2},{"s":32,"x":330,"y":-1.1},{"s":32,"x":360,"y":-0.5},
{"s":33,"x":-360,"y":-0.58},{"s":33,"x":-330,"y":-0.26},{"s":33,"x":-300,"y":-0.07},{"s":33,"x":-270,"y":-0.08},{"s":33,"x":-240,"y":-0.12},{"s":33,"x":-210,"y":-0.84},{"s":33,"x":-180,"y":-0.84},{"s":33,"x":-150,"y":-0.8},{"s":33,"x":-120,"y":-0.65},{"s":33,"x":-90,"y":-0.6},{"s":33,"x":-60,"y":-0.55},{"s":33,"x":-30,"y":-0.65},{"s":33,"x":0,"y":-0.58},{"s":33,"x":30,"y":-0.26},{"s":33,"x":60,"y":-0.07},{"s":33,"x":90,"y":-0.08},{"s":33,"x":120,"y":-0.12},{"s":33,"x":150,"y":-0.84},{"s":33,"x":180,"y":-0.84},{"s":33,"x":210,"y":-0.8},{"s":33,"x":240,"y":-0.65},{"s":33,"x":270,"y":-0.6},{"s":33,"x":300,"y":-0.55},{"s":33,"x":330,"y":-0.65},{"s":33,"x":360,"y":-0.58},
{"s":34,"x":-360,"y":-0.45},{"s":34,"x":-330,"y":0.15},{"s":34,"x":-300,"y":0.34},{"s":34,"x":-270,"y":0.34},{"s":34,"x":-240,"y":0.25},{"s":34,"x":-210,"y":0.27},{"s":34,"x":-180,"y":0.45},{"s":34,"x":-150,"y":0.53},{"s":34,"x":-120,"y":0.29},{"s":34,"x":-90,"y":-0.16},{"s":34,"x":-60,"y":-0.5},{"s":34,"x":-30,"y":-0.4},{"s":34,"x":0,"y":-0.45},{"s":34,"x":30,"y":0.15},{"s":34,"x":60,"y":0.34},{"s":34,"x":90,"y":0.34},{"s":34,"x":120,"y":0.25},{"s":34,"x":150,"y":0.27},{"s":34,"x":180,"y":0.45},{"s":34,"x":210,"y":0.53},{"s":34,"x":240,"y":0.29},{"s":34,"x":270,"y":-0.16},{"s":34,"x":300,"y":-0.5},{"s":34,"x":330,"y":-0.4},{"s":34,"x":360,"y":-0.45},
{"s":35,"x":-360,"y":-0.3},{"s":35,"x":-330,"y":0.25},{"s":35,"x":-300,"y":0.6},{"s":35,"x":-270,"y":0.85},{"s":35,"x":-240,"y":0.9},{"s":35,"x":-210,"y":0.85},{"s":35,"x":-180,"y":0.7},{"s":35,"x":-150,"y":0.35},{"s":35,"x":-120,"y":-0.1},{"s":35,"x":-90,"y":-0.45},{"s":35,"x":-60,"y":-0.55},{"s":35,"x":-30,"y":-0.6},{"s":35,"x":0,"y":-0.3},{"s":35,"x":30,"y":0.25},{"s":35,"x":60,"y":0.6},{"s":35,"x":90,"y":0.85},{"s":35,"x":120,"y":0.9},{"s":35,"x":150,"y":0.85},{"s":35,"x":180,"y":0.7},{"s":35,"x":210,"y":0.35},{"s":35,"x":240,"y":-0.1},{"s":35,"x":270,"y":-0.45},{"s":35,"x":300,"y":-0.55},{"s":35,"x":330,"y":-0.6},{"s":35,"x":360,"y":-0.3},
{"s":36,"x":-360,"y":-0.22},{"s":36,"x":-330,"y":0.27},{"s":36,"x":-300,"y":0.7},{"s":36,"x":-270,"y":0.98},{"s":36,"x":-240,"y":1.09},{"s":36,"x":-210,"y":0.96},{"s":36,"x":-180,"y":0.75},{"s":36,"x":-150,"y":0.42},{"s":36,"x":-120,"y":0.0},{"s":36,"x":-90,"y":-0.35},{"s":36,"x":-60,"y":-0.55},{"s":36,"x":-30,"y":-0.55},{"s":36,"x":0,"y":-0.22},{"s":36,"x":30,"y":0.27},{"s":36,"x":60,"y":0.7},{"s":36,"x":90,"y":0.98},{"s":36,"x":120,"y":1.09},{"s":36,"x":150,"y":0.96},{"s":36,"x":180,"y":0.75},{"s":36,"x":210,"y":0.42},{"s":36,"x":240,"y":0.0},{"s":36,"x":270,"y":-0.35},{"s":36,"x":300,"y":-0.55},{"s":36,"x":330,"y":-0.55},{"s":36,"x":360,"y":-0.22},
{"s":37,"x":-360,"y":-0.73},{"s":37,"x":-330,"y":-0.2},{"s":37,"x":-300,"y":0.2},{"s":37,"x":-270,"y":0.1},{"s":37,"x":-240,"y":-0.3},{"s":37,"x":-210,"y":-0.8},{"s":37,"x":-180,"y":-1.0},{"s":37,"x":-150,"y":-0.9},{"s":37,"x":-120,"y":-0.6},{"s":37,"x":-90,"y":-0.8},{"s":37,"x":-60,"y":-1.0},{"s":37,"x":-30,"y":-0.9},{"s":37,"x":0,"y":-0.73},{"s":37,"x":30,"y":-0.2},{"s":37,"x":60,"y":0.2},{"s":37,"x":90,"y":0.1},{"s":37,"x":120,"y":-0.3},{"s":37,"x":150,"y":-0.8},{"s":37,"x":180,"y":-1.0},{"s":37,"x":210,"y":-0.9},{"s":37,"x":240,"y":-0.6},{"s":37,"x":270,"y":-0.8},{"s":37,"x":300,"y":-1.0},{"s":37,"x":330,"y":-0.9},{"s":37,"x":360,"y":-0.73},
{"s":38,"x":-360,"y":-0.3},{"s":38,"x":-330,"y":0.6},{"s":38,"x":-300,"y":1.1},{"s":38,"x":-270,"y":0.7},{"s":38,"x":-240,"y":-0.3},{"s":38,"x":-210,"y":-0.6},{"s":38,"x":-180,"y":-0.2},{"s":38,"x":-150,"y":0.1},{"s":38,"x":-120,"y":-0.2},{"s":38,"x":-90,"y":-0.8},{"s":38,"x":-60,"y":-1.3},{"s":38,"x":-30,"y":-1.0},{"s":38,"x":0,"y":-0.3},{"s":38,"x":30,"y":0.6},{"s":38,"x":60,"y":1.1},{"s":38,"x":90,"y":0.7},{"s":38,"x":120,"y":-0.3},{"s":38,"x":150,"y":-0.6},{"s":38,"x":180,"y":-0.2},{"s":38,"x":210,"y":0.1},{"s":38,"x":240,"y":-0.2},{"s":38,"x":270,"y":-0.8},{"s":38,"x":300,"y":-1.3},{"s":38,"x":330,"y":-1.0},{"s":38,"x":360,"y":-0.3},
{"s":39,"x":-360,"y":-0.2},{"s":39,"x":-330,"y":1.0},{"s":39,"x":-300,"y":1.3},{"s":39,"x":-270,"y":0.8},{"s":39,"x":-240,"y":-0.5},{"s":39,"x":-210,"y":-0.9},{"s":39,"x":-180,"y":-0.5},{"s":39,"x":-150,"y":-0.2},{"s":39,"x":-120,"y":-0.3},{"s":39,"x":-90,"y":-0.8},{"s":39,"x":-60,"y":-1.4},{"s":39,"x":-30,"y":-1.2},{"s":39,"x":0,"y":-0.2},{"s":39,"x":30,"y":1.0},{"s":39,"x":60,"y":1.3},{"s":39,"x":90,"y":0.8},{"s":39,"x":120,"y":-0.5},{"s":39,"x":150,"y":-0.9},{"s":39,"x":180,"y":-0.5},{"s":39,"x":210,"y":-0.2},{"s":39,"x":240,"y":-0.3},{"s":39,"x":270,"y":-0.8},{"s":39,"x":300,"y":-1.4},{"s":39,"x":330,"y":-1.2},{"s":39,"x":360,"y":-0.2},
{"s":40,"x":-360,"y":1.1},{"s":40,"x":-330,"y":2.1},{"s":40,"x":-300,"y":1.7},{"s":40,"x":-270,"y":0.9},{"s":40,"x":-240,"y":0.2},{"s":40,"x":-210,"y":0.1},{"s":40,"x":-180,"y":0.6},{"s":40,"x":-150,"y":1.1},{"s":40,"x":-120,"y":0.6},{"s":40,"x":-90,"y":-0.5},{"s":40,"x":-60,"y":-1.6},{"s":40,"x":-30,"y":-1.6},{"s":40,"x":0,"y":1.1},{"s":40,"x":30,"y":2.1},{"s":40,"x":60,"y":1.7},{"s":40,"x":90,"y":0.9},{"s":40,"x":120,"y":0.2},{"s":40,"x":150,"y":0.1},{"s":40,"x":180,"y":0.6},{"s":40,"x":210,"y":1.1},{"s":40,"x":240,"y":0.6},{"s":40,"x":270,"y":-0.5},{"s":40,"x":300,"y":-1.6},{"s":40,"x":330,"y":-1.6},{"s":40,"x":360,"y":1.1},
{"s":41,"x":-360,"y":0.6},{"s":41,"x":-330,"y":2.62},{"s":41,"x":-300,"y":2.84},{"s":41,"x":-270,"y":1.87},{"s":41,"x":-240,"y":0.5},{"s":41,"x":-210,"y":0.7},{"s":41,"x":-180,"y":1.9},{"s":41,"x":-150,"y":2.95},{"s":41,"x":-120,"y":2.2},{"s":41,"x":-90,"y":0.48},{"s":41,"x":-60,"y":-1.7},{"s":41,"x":-30,"y":-1.69},{"s":41,"x":0,"y":0.6},{"s":41,"x":30,"y":2.62},{"s":41,"x":60,"y":2.84},{"s":41,"x":90,"y":1.87},{"s":41,"x":120,"y":0.5},{"s":41,"x":150,"y":0.7},{"s":41,"x":180,"y":1.9},{"s":41,"x":210,"y":2.95},{"s":41,"x":240,"y":2.2},{"s":41,"x":270,"y":0.48},{"s":41,"x":300,"y":-1.7},{"s":41,"x":330,"y":-1.69},{"s":41,"x":360,"y":0.6}
]},
"transform": [{"lookup": "s", "from": {"data": {"values": [
{"s":1,"n":"Guayquiraró"},{"s":2,"n":"Yuquerí Grande"},{"s":3,"n":"Gualeguay"},{"s":4,"n":"Gualeguaychú"},{"s":5,"n":"Feliciano"},{"s":6,"n":"Nogoyá"},{"s":7,"n":"F_C21_1_Arroyo Feliciano"},{"s":8,"n":"F_C18_2_Arroyo Tases"},{"s":9,"n":"F_C12_1_Arroyo Estacas Este"},{"s":10,"n":"F_C15-1_Arroyo Tuna"},{"s":11,"n":"F_2_Junction_9"},{"s":12,"n":"F_3_Junction_2"},{"s":13,"n":"F_3_Junction_7"},{"s":14,"n":"F_4_Junction_16"},{"s":15,"n":"F_4_Junction_4"},{"s":16,"n":"F_5_Junction_7"},{"s":17,"n":"F_7_Junction_10"},{"s":18,"n":"F_10_Junction_13"},{"s":19,"n":"F_13_Junction_17"},{"s":20,"n":"F_15_Junction_22"},{"s":21,"n":"G_CP01W92"},{"s":22,"n":"G_CP02W141"},{"s":23,"n":"G_CP03W150"},{"s":24,"n":"G_CP09W530"},{"s":25,"n":"G_CP14W860"},{"s":26,"n":"G_CP12W680"},{"s":27,"n":"G_CP14W950"},{"s":28,"n":"G_CP16W1050"},{"s":29,"n":"G_CP05W90"},{"s":30,"n":"G_CP08W450"},{"s":31,"n":"G_CP10W580"},{"s":32,"n":"G_CP06W331"},{"s":33,"n":"G_CP07W440"},{"s":34,"n":"G_CP10W600"},{"s":35,"n":"G_CP11W740"},{"s":36,"n":"G_CP13W870"},{"s":37,"n":"G_CP15W1000"},{"s":38,"n":"G_CP15W1040"},{"s":39,"n":"G_CP15W1030"},{"s":40,"n":"F_14_Junction_21"},{"s":41,"n":"F_12_Paso_Medina"}
]}, "key": "s", "fields": ["n"]}}],
"mark": {"type": "line", "strokeWidth": 3, "point": {"filled": true, "size": 60}},
"encoding": {
"x": {"field": "x", "type": "quantitative", "scale": {"domain": [-360, 360], "nice": false, "zero": false},
 "axis": {"values": [-360,-330,-300,-270,-240,-210,-180,-150,-120,-90,-60,-30,0,30,60,90,120,150,180,210,240,270,300,330,360],
  "labelExpr": "datum.value % 60 == 0 ? toString(datum.value) : ''", "labelFlush": false, "labelOverlap": false, "title": null, "grid": true, "gridColor": "#D9D9D9", "gridWidth": 1,
  "ticks": false, "domain": true, "domainColor": "#D9D9D9", "labelFontSize": 21.5, "labelFont": "Liberation Sans", "labelColor": "#000000", "labelPadding": 15}},
"y": {"field": "y", "type": "quantitative", "scale": {"domain": [-6, 8], "nice": false, "zero": false},
 "axis": {"values": [-6,-4,-2,0,2,4,6,8], "labelExpr": "replace(replace(format(datum.value, '.1f'), '.', ','), '\u2212', '-')", "labelFlush": false, "title": null,
  "grid": true, "gridColor": "#D9D9D9", "gridDash": [2,2], "gridWidth": 1, "ticks": false, "domain": false,
  "labelFontSize": 21.5, "labelFont": "Liberation Sans", "labelColor": "#000000", "labelPadding": 21}},
"color": {"field": "n", "type": "nominal",
 "scale": {"domain": ["Guayquiraró","Yuquerí Grande","Gualeguay","Gualeguaychú","Feliciano","Nogoyá","F_C21_1_Arroyo Feliciano","F_C18_2_Arroyo Tases","F_C12_1_Arroyo Estacas Este","F_C15-1_Arroyo Tuna","F_2_Junction_9","F_3_Junction_2","F_3_Junction_7","F_4_Junction_16","F_4_Junction_4","F_5_Junction_7","F_7_Junction_10","F_10_Junction_13","F_13_Junction_17","F_15_Junction_22","G_CP01W92","G_CP02W141","G_CP03W150","G_CP09W530","G_CP14W860","G_CP12W680","G_CP14W950","G_CP16W1050","G_CP05W90","G_CP08W450","G_CP10W580","G_CP06W331","G_CP07W440","G_CP10W600","G_CP11W740","G_CP13W870","G_CP15W1000","G_CP15W1040","G_CP15W1030","F_14_Junction_21","F_12_Paso_Medina"],
  "range": ["#4472C4","#ED7D31","#A5A5A5","#FFC000","#5B9BD5","#70AD47","#264478","#9E480E","#636363","#997300","#255E91","#43682B","#698ED0","#F1975A","#B7B7B7","#FFCD33","#7CAFDD","#8CC168","#335AA1","#D26012","#848484","#CC9A00","#327DC3","#5A8A39","#8FAADC","#F4B183","#C9C9C9","#FFD966","#9DC3E6","#A9D18E","#203864","#843C0C","#525252","#7F6000","#1F4E79","#385723","#7C9CD6","#F29F6F","#C0C0C0","#FFD24D","#8CB8E2"]},
 "legend": {"orient": "none", "legendX": -48, "legendY": 702, "direction": "horizontal", "columns": 3, "gridAlign": "all", "columnPadding": 11, "rowPadding": 3, "symbolLimit": 0,
  "title": null, "labelFontSize": 24, "labelFont": "Liberation Sans", "labelColor": "#000000", "labelLimit": 600, "labelOffset": 0,
  "symbolType": "M-1,0L1,0M-0.24,0A0.24,0.24,0,1,1,0.24,0A0.24,0.24,0,1,1,-0.24,0", "symbolSize": 1089, "symbolStrokeWidth": 3,
  "encode": {"symbols": {"update": {"fill": {"scale": "color", "field": "value"}, "stroke": {"scale": "color", "field": "value"}, "opacity": {"value": 1}}}}}}
}
}
